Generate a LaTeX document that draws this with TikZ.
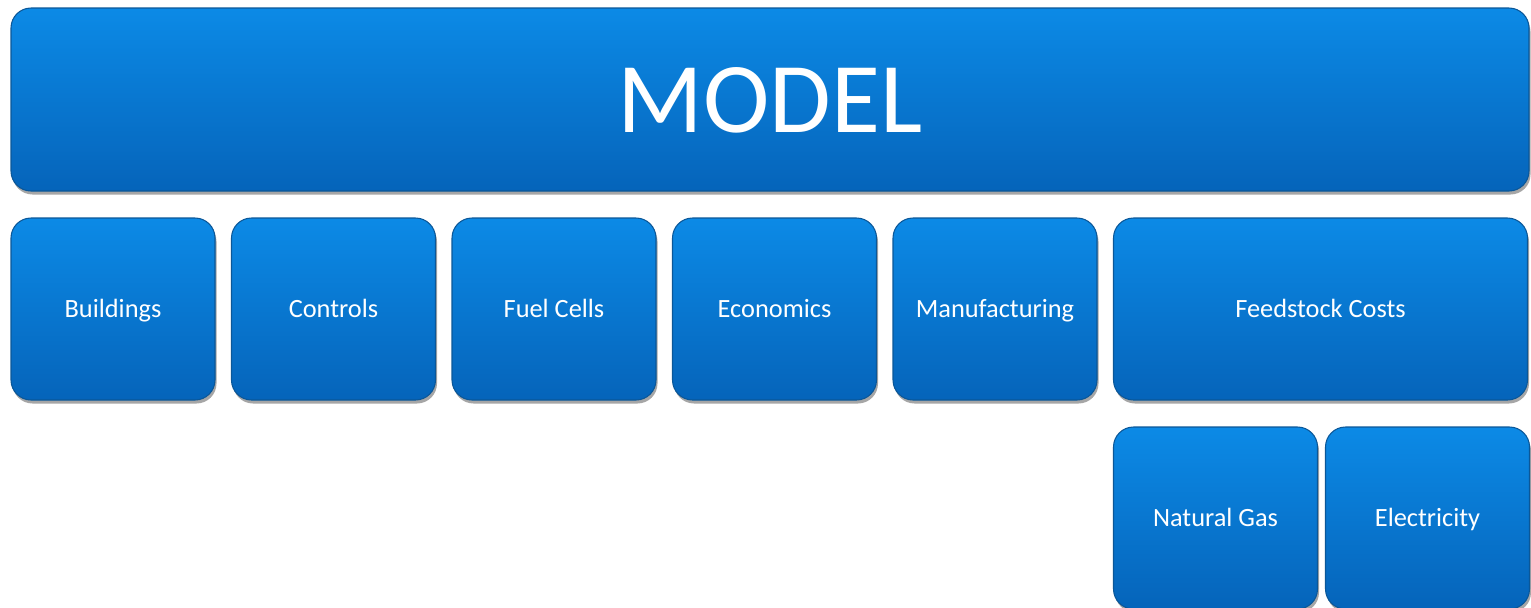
\documentclass[tikz,border=0pt]{standalone}
\usepackage{fontspec}
\setmainfont{Carlito}
\usepackage{xcolor}
\usetikzlibrary{positioning,shadows}
\definecolor{boxtop}{HTML}{0C8AE6}
\definecolor{boxbot}{HTML}{0564BA}
\definecolor{boxedge}{HTML}{0B5798}
\tikzset{
  blk/.style={draw=boxedge, line width=0.6pt, rounded corners=0.4cm,
    top color=boxtop, bottom color=boxbot, text=white,
    minimum width=#1, minimum height=3.64cm, outer sep=0pt,
    text height=10pt, text depth=0.5pt,
    font=\fontsize{15}{18}\selectfont,
    drop shadow={shadow xshift=0.03cm, shadow yshift=-0.07cm, opacity=0.35, fill=black}},
  blk/.default=4.08cm,
  gap/.style={node distance=0.33cm},
}

\begin{document}
\begin{tikzpicture}
\useasboundingbox (0,0) rectangle (30.62,-12.14);

% ---- top level ----
\node[blk=30.36cm, minimum height=3.66cm, anchor=north west,
      text height=37pt, text depth=0pt,
      font=\fontsize{57}{66}\selectfont] (model) at (0.22,-0.16) {MODEL};

% ---- second row ----
\node[blk, below=0.54cm of model.south west, anchor=north west] (build) {Buildings};
\node[blk, gap, right=of build] (ctrl) {Controls};
\node[blk, gap, right=of ctrl] (fuel) {Fuel Cells};
\node[blk, gap, right=of fuel] (econ) {Economics};
\node[blk, gap, right=of econ] (manuf) {Manufacturing};
\node[blk=8.28cm, gap, right=of manuf] (feed) {Feedstock Costs};

% ---- feedstock split ----
\node[blk, below=0.54cm of feed.south west, anchor=north west] (gas) {Natural Gas};
\node[blk, right=0.16cm of gas] (elec) {Electricity};

\end{tikzpicture}
\end{document}
